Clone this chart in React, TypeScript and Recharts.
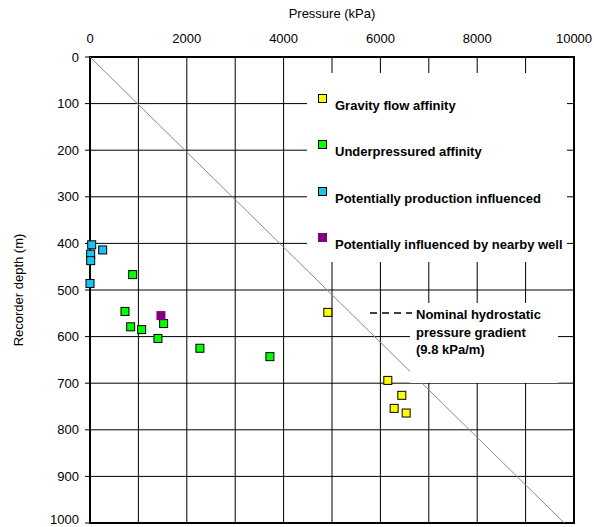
import {
  ScatterChart,
  Scatter,
  XAxis,
  YAxis,
  CartesianGrid,
  ReferenceLine,
  ReferenceArea,
} from 'recharts';

const FONT = "Arial, 'Liberation Sans', sans-serif";

// pressure (kPa) / recorder depth (m)
const gravityPressure = [4914, 6153, 6442, 6284, 6532];
const gravityDepth = [548, 694, 726, 754, 764];

const underPressure = [881, 723, 840, 1067, 1521, 1404, 2271, 3717];
const underDepth = [467, 546, 579, 585, 572, 604, 625, 643];

const productionPressure = [35, 262, 14, 14, 0];
const productionDepth = [403, 414, 423, 437, 486];

const nearbyPressure = [1466];
const nearbyDepth = [555];

const pressureTicks = [0, 1000, 2000, 3000, 4000, 5000, 6000, 7000, 8000, 9000, 10000];
const depthTicks = [0, 100, 200, 300, 400, 500, 600, 700, 800, 900, 1000];

const gradient = 9.8; // kPa/m

const toPoints = (xs: number[], ys: number[]) => xs.map((x, i) => ({ x, y: ys[i] }));

const series = [
  { name: 'Gravity flow affinity', fill: '#ffff00', stroke: '#000', data: toPoints(gravityPressure, gravityDepth) },
  { name: 'Underpressured affinity', fill: '#00ff00', stroke: '#000', data: toPoints(underPressure, underDepth) },
  { name: 'Potentially production influenced', fill: '#19c5f0', stroke: '#000', data: toPoints(productionPressure, productionDepth) },
  { name: 'Potentially influenced by nearby well', fill: '#800080', stroke: '#800080', data: toPoints(nearbyPressure, nearbyDepth) },
];

const Square = (props: any) => {
  const { cx, cy, fill, stroke } = props;
  return <rect x={cx - 4} y={cy - 4} width={8} height={8} fill={fill} stroke={stroke} strokeWidth={1} />;
};

export default function App() {
  return (
    <div style={{ position: 'absolute', left: 0, top: 0, width: 594, height: 527, background: '#fff' }}>
      <ScatterChart width={594} height={527} margin={{ top: 0, right: 20, bottom: 4, left: 0 }}>
        <CartesianGrid stroke="#000" strokeWidth={1} />
        <XAxis
          type="number"
          dataKey="x"
          orientation="top"
          domain={[0, 10000]}
          ticks={pressureTicks}
          tickFormatter={(v: number) => (v % 2000 === 0 ? String(v) : '')}
          height={57}
          axisLine={false}
          tickLine={false}
          tickSize={0}
          tickMargin={14}
          tick={{ fill: '#000', fontSize: 13, fontFamily: FONT }}
          label={{ value: 'Pressure (kPa)', position: 'insideTop', offset: 9, fill: '#000', fontSize: 13, fontFamily: FONT }}
        />
        <YAxis
          type="number"
          dataKey="y"
          domain={[0, 1000]}
          reversed
          ticks={depthTicks}
          width={90}
          axisLine={false}
          tickLine={{ stroke: '#000' }}
          tickSize={5}
          tickMargin={6}
          tick={{ fill: '#000', fontSize: 13, fontFamily: FONT }}
          label={{
            value: 'Recorder depth (m)',
            angle: -90,
            position: 'insideLeft',
            offset: 18,
            fill: '#000',
            fontSize: 13,
            fontFamily: FONT,
            style: { textAnchor: 'middle' },
          }}
        />
        <ReferenceLine
          segment={[{ x: 0, y: 0 }, { x: gradient * 1000, y: 1000 }]}
          stroke="#8a8a8a"
          strokeWidth={1}
        />
        <ReferenceArea x1={0} x2={10000} y1={0} y2={1000} fill="none" stroke="#000" strokeWidth={2} />
        {series.map((s) => (
          <Scatter
            key={s.name}
            name={s.name}
            data={s.data}
            fill={s.fill}
            stroke={s.stroke}
            shape={Square}
            isAnimationActive={false}
          />
        ))}
      </ScatterChart>

      {/* legend box */}
      <div style={{ position: 'absolute', left: 307, top: 73, width: 260, height: 189, background: '#fff' }}>
        {series.map((s, i) => (
          <div key={s.name}>
            <div
              style={{
                position: 'absolute',
                left: 11,
                top: 21 + i * 46.3,
                width: 7,
                height: 7,
                background: s.fill,
                border: `1px solid ${s.stroke}`,
              }}
            />
            <div
              style={{
                position: 'absolute',
                left: 28,
                top: 25 + i * 46.3,
                lineHeight: '15px',
                fontSize: 13,
                fontWeight: 'bold',
                fontFamily: FONT,
                whiteSpace: 'nowrap',
                color: '#000',
              }}
            >
              {s.name}
            </div>
          </div>
        ))}
      </div>

      {/* hydrostatic annotation */}
      <div style={{ position: 'absolute', left: 410, top: 303, width: 148, height: 80, background: '#fff' }}>
        <div
          style={{
            position: 'absolute',
            left: 6,
            top: 3,
            lineHeight: '17.5px',
            fontSize: 13,
            fontWeight: 'bold',
            fontFamily: FONT,
            whiteSpace: 'nowrap',
            color: '#000',
          }}
        >
          Nominal hydrostatic
          <br />
          pressure gradient
          <br />
          (9.8 kPa/m)
        </div>
      </div>
      <svg style={{ position: 'absolute', left: 368, top: 308, overflow: 'visible' }} width={46} height={10}>
        <line x1={2} y1={5} x2={44} y2={5} stroke="#000" strokeWidth={1.5} strokeDasharray="7 5" />
      </svg>
    </div>
  );
}
